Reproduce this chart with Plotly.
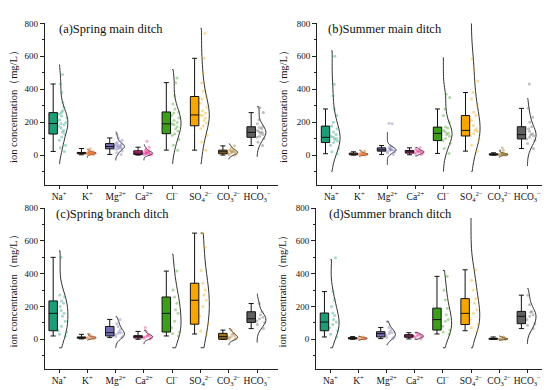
import plotly.graph_objects as go

ions = ["Na<sup>+</sup>", "K<sup>+</sup>", "Mg<sup>2+</sup>", "Ca<sup>2+</sup>", "Cl<sup>−</sup>",
        "SO<sub>4</sub><sup>2−</sup>", "CO<sub>3</sub><sup>2−</sup>", "HCO<sub>3</sub><sup>−</sup>"]
colors = ["#1b9e77", "#e8702a", "#7570b3", "#e7298a", "#3c9e1a", "#f7a600", "#a6761d", "#606060"]
titles = ["(a)Spring main ditch", "(b)Summer main ditch", "(c)Spring branch ditch", "(d)Summer branch ditch"]

# (a) Spring main ditch
a_q1 = [128, 8, 38, 4, 130, 178, 8, 108]
a_med = [192, 12, 52, 12, 190, 244, 20, 138]
a_q3 = [258, 16, 70, 26, 262, 356, 30, 172]
a_lo = [22, 2, 4, 0, 30, 30, 0, 58]
a_hi = [432, 40, 104, 48, 440, 588, 56, 258]
a_curve_lo = [-52, -16, -32, -32, -52, -52, -26, -10]
a_curve_hi = [548, 36, 140, 64, 520, 770, 68, 294]
a_pts = [
    [22, 45, 60, 90, 110, 128, 140, 150, 165, 175, 185, 192, 198, 205, 215, 225, 238, 250, 258, 270, 290, 320, 380, 432, 490],
    [2, 4, 6, 8, 8, 10, 10, 12, 12, 12, 14, 14, 16, 16, 18, 20, 24, 30, 40],
    [4, 15, 25, 35, 38, 42, 46, 50, 52, 55, 58, 62, 66, 70, 78, 90, 104, 128],
    [0, 2, 4, 6, 8, 10, 12, 12, 14, 16, 18, 22, 26, 30, 38, 48, 84],
    [30, 60, 95, 120, 130, 145, 160, 172, 185, 190, 198, 210, 225, 240, 255, 262, 280, 310, 360, 440, 468],
    [30, 80, 120, 160, 178, 195, 210, 225, 240, 244, 255, 270, 290, 315, 340, 356, 390, 440, 500, 588, 740],
    [0, 4, 8, 10, 14, 18, 20, 22, 26, 30, 36, 44, 56],
    [58, 80, 100, 108, 115, 125, 132, 138, 142, 150, 160, 168, 172, 190, 215, 258, 288],
]

# (b) Summer main ditch
b_q1 = [76, 2, 24, 12, 88, 116, 0, 98]
b_med = [108, 6, 32, 20, 132, 150, 4, 124]
b_q3 = [176, 12, 44, 28, 170, 240, 8, 172]
b_lo = [8, 0, 4, 2, 10, 24, 0, 40]
b_hi = [280, 20, 58, 44, 280, 380, 14, 284]
b_curve_lo = [-100, -10, -60, -5, -100, -100, -16, -66]
b_curve_hi = [634, 30, 140, 45, 594, 900, 30, 344]
b_pts = [
    [8, 20, 40, 60, 76, 85, 95, 100, 108, 115, 125, 140, 160, 176, 200, 240, 280, 360, 430, 600, 770],
    [0, 2, 3, 4, 5, 6, 6, 8, 10, 12, 14, 20, 26],
    [4, 12, 20, 24, 28, 30, 32, 34, 38, 44, 50, 58, 190, 194],
    [2, 8, 12, 15, 18, 20, 22, 24, 28, 34, 44],
    [10, 40, 70, 88, 100, 115, 125, 132, 140, 150, 165, 170, 200, 240, 280, 350, 370],
    [24, 60, 90, 116, 130, 145, 150, 160, 180, 210, 240, 260, 300, 340, 380, 450, 520, 584],
    [0, 0, 2, 3, 4, 5, 6, 8, 10, 14, 30, 44],
    [40, 70, 90, 98, 108, 118, 124, 130, 145, 160, 172, 200, 230, 284, 432],
]

# (c) Spring branch ditch
c_q1 = [52, 6, 20, 8, 44, 92, 0, 103]
c_med = [158, 10, 40, 18, 158, 238, 16, 125]
c_q3 = [234, 14, 78, 22, 258, 342, 36, 168]
c_lo = [20, 2, 10, 0, 20, 32, 0, 65]
c_hi = [500, 30, 121, 48, 416, 648, 56, 218]
c_curve_lo = [-52, -5, -52, -30, -52, -52, -36, -20]
c_curve_hi = [540, 32, 137, 55, 520, 648, 64, 278]
c_pts = [
    [20, 30, 45, 52, 80, 110, 140, 158, 175, 200, 220, 234, 260, 270, 500],
    [2, 5, 8, 10, 10, 12, 14, 18, 30],
    [10, 15, 20, 28, 35, 40, 46, 60, 78, 95, 121],
    [0, 6, 10, 14, 18, 20, 22, 30, 48, 72],
    [20, 35, 44, 70, 110, 158, 180, 220, 258, 300, 416],
    [32, 50, 92, 140, 200, 238, 270, 300, 342, 420, 560, 648],
    [0, 2, 6, 12, 16, 22, 30, 36, 56],
    [65, 90, 103, 112, 125, 135, 150, 168, 218],
]

# (d) Summer branch ditch
d_q1 = [52, 2, 14, 12, 56, 90, 0, 95]
d_med = [105, 6, 34, 20, 120, 158, 2, 140]
d_q3 = [160, 10, 46, 28, 190, 248, 6, 170]
d_lo = [14, 0, 4, 2, 32, 52, 0, 65]
d_hi = [291, 16, 72, 40, 384, 424, 14, 269]
d_curve_lo = [-52, -6, -34, 0, -52, -52, -6, -28]
d_curve_hi = [486, 18, 108, 40, 420, 740, 20, 309]
d_pts = [
    [14, 30, 52, 70, 90, 105, 120, 145, 160, 200, 240, 291, 497],
    [0, 2, 4, 6, 6, 8, 10, 16],
    [4, 10, 14, 24, 34, 40, 46, 60, 72, 108],
    [2, 10, 14, 18, 20, 22, 26, 32, 40],
    [32, 45, 56, 80, 110, 120, 150, 190, 240, 300, 384],
    [52, 70, 90, 120, 158, 180, 220, 248, 300, 360, 424],
    [0, 0, 2, 2, 4, 6, 10, 14],
    [65, 85, 95, 120, 140, 150, 165, 170, 210, 269],
]

panels = [
    (a_q1, a_med, a_q3, a_lo, a_hi, a_curve_lo, a_curve_hi, a_pts),
    (b_q1, b_med, b_q3, b_lo, b_hi, b_curve_lo, b_curve_hi, b_pts),
    (c_q1, c_med, c_q3, c_lo, c_hi, c_curve_lo, c_curve_hi, c_pts),
    (d_q1, d_med, d_q3, d_lo, d_hi, d_curve_lo, d_curve_hi, d_pts),
]

# pixel-derived domains
xdoms = [[0.0667, 0.491], [0.562, 0.982], [0.0667, 0.491], [0.56, 0.982]]
ydoms = [[0.554, 0.973], [0.554, 0.973], [0.076, 0.493], [0.076, 0.493]]
title_pos = [(0.052, 0.965), (0.04, 0.965), (0.038, 0.962), (0.048, 0.962)]

FONT = "Liberation Serif, Times New Roman, serif"
fig = go.Figure()

for p, (q1, med, q3, lo, hi, clo, chi, pts) in enumerate(panels):
    xa = "x" if p == 0 else f"x{p+1}"
    ya = "y" if p == 0 else f"y{p+1}"
    for i in range(len(ions)):
        fig.add_trace(go.Violin(
            x0=i, y=pts[i], xaxis=xa, yaxis=ya, side="positive", width=0.62,
            spanmode="manual", span=[clo[i], chi[i]],
            line=dict(color="#333333", width=1), fillcolor="rgba(0,0,0,0)",
            points="all", pointpos=0.4, jitter=0.6,
            marker=dict(color=colors[i], size=3, opacity=0.4, line=dict(width=0)),
            box=dict(visible=False), meanline=dict(visible=False),
            showlegend=False, hoverinfo="skip"))
        fig.add_trace(go.Box(
            x=[i - 0.21], q1=[q1[i]], median=[med[i]], q3=[q3[i]],
            lowerfence=[lo[i]], upperfence=[hi[i]],
            xaxis=xa, yaxis=ya, width=0.3, whiskerwidth=0.6,
            fillcolor=colors[i], line=dict(color="#111111", width=1),
            boxpoints=False, showlegend=False, hoverinfo="skip"))
    k = "" if p == 0 else str(p + 1)
    fig.update_layout(**{
        f"xaxis{k}": dict(domain=xdoms[p], anchor=ya, range=[-0.51, 7.74],
                          tickmode="array", tickvals=list(range(8)), ticktext=ions,
                          tickangle=0, ticklabeloverflow="allow",
                          showline=True, linecolor="#222", linewidth=1, ticks="outside",
                          ticklen=3, tickcolor="#222", showgrid=False, zeroline=False,
                          tickfont=dict(family=FONT, size=9.5, color="#111")),
        f"yaxis{k}": dict(domain=ydoms[p], anchor=xa, range=[-180, 800],
                          tickvals=[0, 200, 400, 600, 800], showline=True, linecolor="#222",
                          linewidth=1, ticks="outside", ticklen=4, tickcolor="#222",
                          minor=dict(tickvals=[-100, 100, 300, 500, 700], ticks="outside",
                                     ticklen=2, tickcolor="#222"),
                          showgrid=False, zeroline=False,
                          tickfont=dict(family=FONT, size=9, color="#111"),
                          title=dict(text="ion concentration（mg/L）", standoff=7,
                                     font=dict(family=FONT, size=10.5, color="#111"))),
    })
    fig.add_annotation(text=titles[p], xref=f"{xa} domain", yref=f"{ya} domain",
                       x=title_pos[p][0], y=title_pos[p][1], xanchor="left", yanchor="middle",
                       showarrow=False, font=dict(family=FONT, size=12.5, color="#111"))

fig.update_layout(width=550, height=390, margin=dict(l=0, r=0, t=0, b=0),
                  paper_bgcolor="white", plot_bgcolor="white",
                  boxmode="overlay", violinmode="overlay", showlegend=False,
                  font=dict(family=FONT))
fig.write_html("out.html")
